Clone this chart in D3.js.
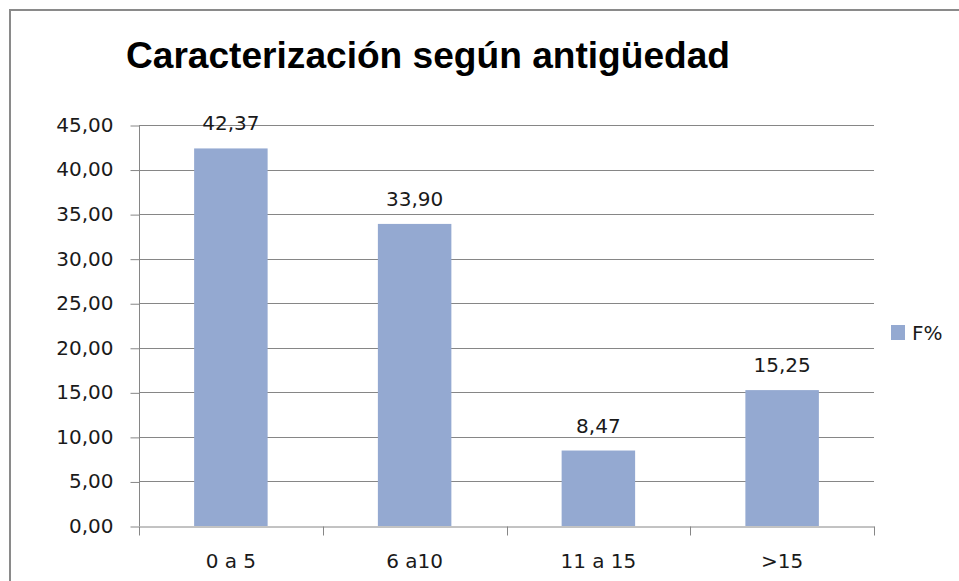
<!DOCTYPE html>
<html lang="es">
<head>
<meta charset="UTF-8">
<title>Caracterización según antigüedad</title>
<style>
    body { margin: 0; padding: 0; background: #ffffff; }
    svg { display: block; }
    .tick-label { font-family: "DejaVu Sans", sans-serif; font-size: 20px; fill: #1a1a1a; }
</style>
<script src="https://d3js.org/d3.v7.min.js"></script>
</head>
<body>
<div id="vis"></div>
<script>
    // datos
    const categorias = ["0 a 5", "6 a10", "11 a 15", ">15"];
    const valores = [42.37, 33.90, 8.47, 15.25];
    const serie = "F%";
    const ticksY = [0, 5, 10, 15, 20, 25, 30, 35, 40, 45];

    const width = 959, height = 581;
    const plot = { left: 139, right: 874, top: 125, bottom: 526 };
    const fmt = v => d3.format(".2f")(v).replace(".", ",");

    const svg = d3.select("#vis").append("svg")
        .attr("width", width)
        .attr("height", height);

    // marco del grafico
    svg.append("path")
        .attr("d", `M10,${height} V10 H${width}`)
        .attr("fill", "none")
        .attr("stroke", "#8a8a8a")
        .attr("stroke-width", 2);

    svg.append("text")
        .attr("x", 126)
        .attr("y", 68)
        .attr("font-family", "Liberation Sans, Arial, sans-serif")
        .attr("font-weight", "bold")
        .attr("font-size", 36)
        .attr("textLength", 604)
        .attr("lengthAdjust", "spacingAndGlyphs")
        .attr("fill", "#000")
        .text("Caracterización según antigüedad");

    const x = d3.scaleBand()
        .domain(categorias)
        .range([plot.left, plot.right])
        .padding(0);

    const y = d3.scaleLinear()
        .domain([0, 45])
        .range([plot.bottom, plot.top]);

    // lineas de cuadricula
    svg.append("g")
        .selectAll("line")
        .data(ticksY.filter(d => d > 0))
        .join("line")
        .attr("x1", plot.left)
        .attr("x2", plot.right)
        .attr("y1", d => Math.round(y(d)) + 0.5)
        .attr("y2", d => Math.round(y(d)) + 0.5)
        .attr("stroke", "#868686")
        .attr("stroke-width", 1);

    const barW = x.bandwidth() * 0.4;
    svg.append("g")
        .selectAll("rect")
        .data(valores)
        .join("rect")
        .attr("x", (d, i) => x(categorias[i]) + (x.bandwidth() - barW) / 2)
        .attr("y", d => y(d))
        .attr("width", barW)
        .attr("height", d => y(0) - y(d))
        .attr("fill", "#94a9d1");

    // etiquetas de datos
    svg.append("g")
        .selectAll("text")
        .data(valores)
        .join("text")
        .attr("class", "tick-label")
        .attr("x", (d, i) => x(categorias[i]) + x.bandwidth() / 2)
        .attr("y", d => y(d) - 18)
        .attr("text-anchor", "middle")
        .text(d => fmt(d));

    // eje Y
    const yAxis = svg.append("g")
        .attr("transform", `translate(${plot.left + 0.5},0)`)
        .call(d3.axisLeft(y).tickValues(ticksY).tickSize(9).tickPadding(17).tickFormat(fmt));
    yAxis.select(".domain").attr("stroke", "#868686").attr("d", `M0,${plot.top}V${plot.bottom}`);
    yAxis.selectAll(".tick line").attr("stroke", "#868686").attr("transform", "translate(0,0.5)");
    yAxis.selectAll(".tick text").attr("class", "tick-label").attr("font-size", null).attr("font-family", null);

    // eje X
    const xAxis = svg.append("g")
        .attr("transform", `translate(0,${plot.bottom + 0.5})`)
        .call(d3.axisBottom(x).tickSize(0).tickPadding(0));
    xAxis.select(".domain").attr("stroke", "#868686");
    xAxis.selectAll(".tick text").attr("class", "tick-label").attr("font-size", null).attr("font-family", null)
        .attr("dy", null).attr("y", 41);
    xAxis.append("g")
        .selectAll("line")
        .data(categorias.concat([null]))
        .join("line")
        .attr("x1", (d, i) => Math.round(plot.left + i * x.step()) + 0.5)
        .attr("x2", (d, i) => Math.round(plot.left + i * x.step()) + 0.5)
        .attr("y1", 0)
        .attr("y2", 9)
        .attr("stroke", "#868686");

    // leyenda
    const leg = svg.append("g").attr("transform", "translate(891,325)");
    leg.append("rect").attr("width", 14).attr("height", 15).attr("fill", "#94a9d1");
    leg.append("text").attr("class", "tick-label").attr("x", 21).attr("y", 15).text(serie);
</script>
</body>
</html>
